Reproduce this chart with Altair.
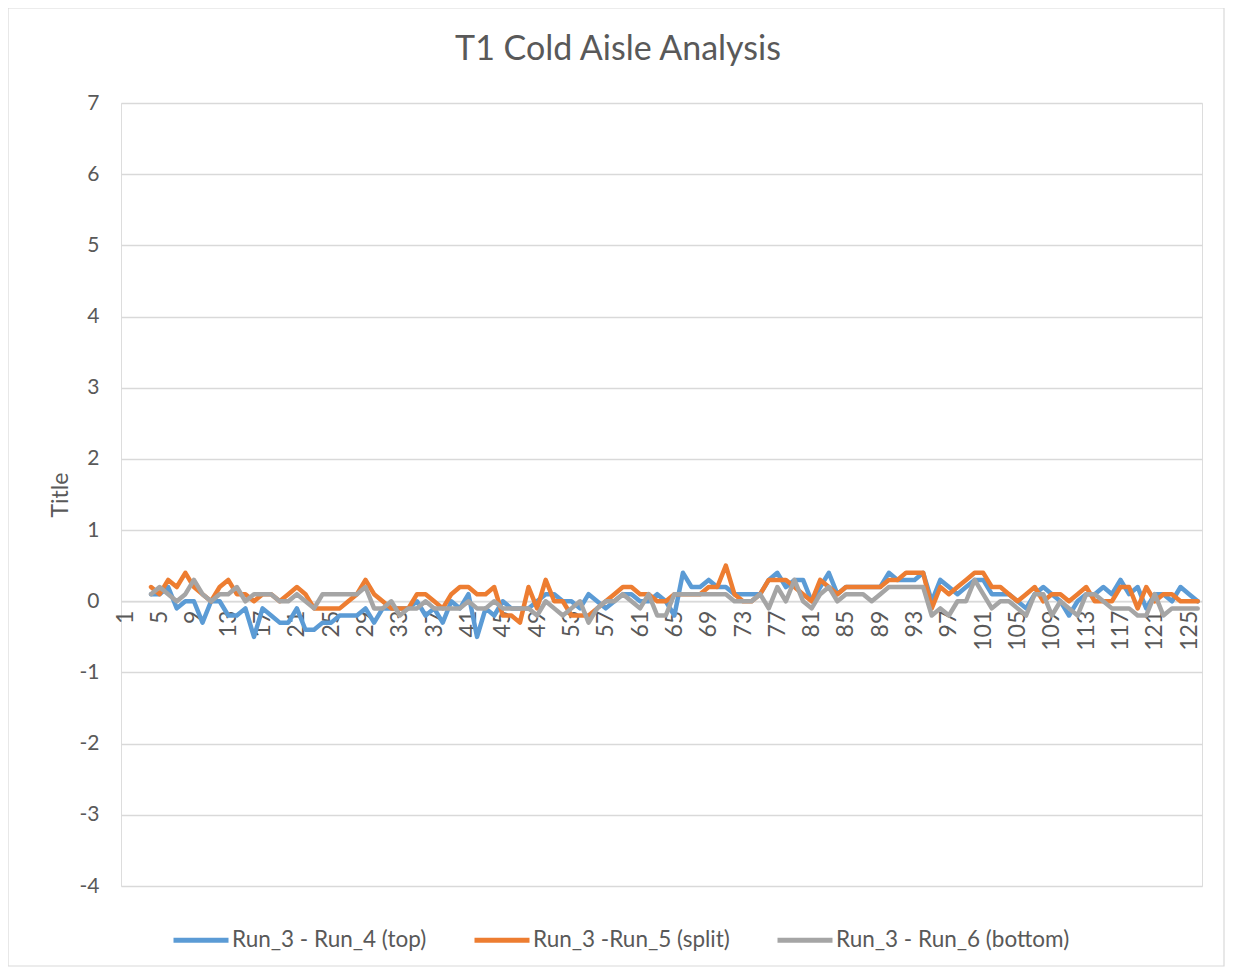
import altair as alt
import pandas as pd

categories = list(range(4, 127))

run4_top = [0.1, 0.1, 0.2, -0.1, 0, 0, -0.3, 0, 0, -0.2, -0.2, -0.1, -0.5, -0.1, -0.2, -0.3, -0.3, -0.1,
            -0.4, -0.4, -0.3, -0.3, -0.2, -0.2, -0.2, -0.1, -0.3, -0.1, -0.1, -0.1, -0.1, 0, -0.2, -0.1,
            -0.3, 0, -0.1, 0.1, -0.5, -0.1, -0.2, 0, -0.1, -0.1, -0.1, 0, 0.1, 0.1, 0, 0, -0.1, 0.1, 0,
            -0.1, 0, 0.1, 0.1, 0, 0, 0.1, 0, -0.2, 0.4, 0.2, 0.2, 0.3, 0.2, 0.2, 0.1, 0.1, 0.1, 0.1, 0.3,
            0.4, 0.2, 0.3, 0.3, 0, 0.2, 0.4, 0.1, 0.2, 0.2, 0.2, 0.2, 0.2, 0.4, 0.3, 0.3, 0.3, 0.4, 0,
            0.3, 0.2, 0.1, 0.2, 0.3, 0.3, 0.1, 0.1, 0.1, 0, -0.1, 0.1, 0.2, 0.1, 0, -0.2, 0, 0.1, 0.1,
            0.2, 0.1, 0.3, 0.1, 0.2, -0.1, 0.1, 0.1, 0, 0.2, 0.1, 0]

run5_split = [0.2, 0.1, 0.3, 0.2, 0.4, 0.2, 0.1, 0, 0.2, 0.3, 0.1, 0.1, 0, 0.1, 0.1, 0, 0.1, 0.2,
              0.1, -0.1, -0.1, -0.1, -0.1, 0, 0.1, 0.3, 0.1, 0, -0.1, -0.1, -0.1, 0.1, 0.1, 0, -0.1,
              0.1, 0.2, 0.2, 0.1, 0.1, 0.2, -0.2, -0.2, -0.3, 0.2, -0.1, 0.3, 0, 0, -0.2, -0.2, -0.2,
              -0.1, 0, 0.1, 0.2, 0.2, 0.1, 0.1, 0, 0, 0.1, 0.1, 0.1, 0.1, 0.2, 0.2, 0.5, 0.1, 0, 0, 0.1,
              0.3, 0.3, 0.3, 0.2, 0.1, 0, 0.3, 0.2, 0.1, 0.2, 0.2, 0.2, 0.2, 0.2, 0.3, 0.3, 0.4, 0.4,
              0.4, -0.1, 0.2, 0.1, 0.2, 0.3, 0.4, 0.4, 0.2, 0.2, 0.1, 0, 0.1, 0.2, 0, 0.1, 0.1, 0, 0.1,
              0.2, 0, 0, 0, 0.2, 0.2, -0.1, 0.2, 0, 0.1, 0.1, 0, 0, 0]

run6_bottom = [0.1, 0.2, 0.1, 0, 0.1, 0.3, 0.1, 0, 0.1, 0.1, 0.2, 0, 0.1, 0.1, 0.1, 0, 0, 0.1, 0,
               -0.1, 0.1, 0.1, 0.1, 0.1, 0.1, 0.2, -0.1, -0.1, 0, -0.2, -0.1, -0.1, 0, -0.1, -0.1,
               -0.1, -0.1, 0, -0.1, -0.1, 0, -0.1, -0.1, -0.1, -0.1, -0.2, 0, -0.1, -0.2, -0.1, 0,
               -0.3, -0.1, 0, 0, 0.1, 0, -0.1, 0.1, -0.2, -0.2, 0.1, 0.1, 0.1, 0.1, 0.1, 0.1, 0.1, 0,
               0, 0, 0.1, -0.1, 0.2, 0, 0.3, 0, -0.1, 0.1, 0.2, 0, 0.1, 0.1, 0.1, 0, 0.1, 0.2, 0.2,
               0.2, 0.2, 0.2, -0.2, -0.1, -0.2, 0, 0, 0.3, 0.1, -0.1, 0, 0, -0.1, -0.2, 0.1, 0.1, -0.2,
               0, -0.1, -0.2, 0.1, 0.1, 0, -0.1, -0.1, -0.1, -0.2, -0.2, 0.1, -0.2, -0.1, -0.1, -0.1,
               -0.1]

series_names = ["Run_3 - Run_4 (top)", "Run_3 -Run_5 (split)", "Run_3 - Run_6 (bottom)"]
series_colors = ["#5B9BD5", "#ED7D31", "#A5A5A5"]
x_tick_values = list(range(1, 127, 4))
y_tick_values = list(range(-4, 8))
chart_title = "T1 Cold Aisle Analysis"

rows = []
for order, (name, vals) in enumerate(zip(series_names, [run4_top, run5_split, run6_bottom])):
    for c, v in zip(categories, vals):
        rows.append({"category": c, "value": v, "series": name, "order": order})
df = pd.DataFrame(rows)

W, H = 1081, 783
FONT = "Lato"
TXT = "#595959"

lines = alt.Chart(df).mark_line(strokeWidth=4.5, strokeJoin="round", strokeCap="round").encode(
    x=alt.X("category:Q",
            scale=alt.Scale(domain=[0.5, 126.5], nice=False, zero=False),
            axis=alt.Axis(values=x_tick_values, labelAngle=-90, grid=False, ticks=False,
                          domain=True, domainColor="#D9D9D9", domainWidth=1.3,
                          labelFontSize=23, labelColor=TXT, labelFont=FONT,
                          labelPadding=9, offset=-H * 4 / 11, title=None,
                          labelOverlap=False)),
    y=alt.Y("value:Q",
            scale=alt.Scale(domain=[-4, 7], nice=False, zero=False),
            axis=alt.Axis(values=y_tick_values, grid=True, gridColor="#D9D9D9", gridWidth=1.3,
                          ticks=False, domain=False, labelFontSize=21, labelColor=TXT,
                          labelFont=FONT, labelPadding=22, labelExpr="'' + datum.value",
                          title="Title", titleFontSize=23,
                          titleFont=FONT, titleColor=TXT, titleFontWeight="normal",
                          titlePadding=7)),
    color=alt.Color("series:N",
                    scale=alt.Scale(domain=series_names, range=series_colors),
                    legend=alt.Legend(orient="none", legendX=50, legendY=807, direction="horizontal",
                                      title=None, symbolType="stroke", symbolSize=3025,
                                      symbolStrokeWidth=5, labelFontSize=22.5, labelFont=FONT,
                                      labelColor=TXT, labelOffset=1, columnPadding=37,
                                      labelLimit=0)),
    detail="series:N",
    order="order:Q",
)

border = alt.Chart(pd.DataFrame({"a": [0]})).mark_rect(
    fill=None, stroke="#D9D9D9", strokeWidth=1.2
).encode(x=alt.value(-113), x2=alt.value(1103), y=alt.value(-95), y2=alt.value(863))

title_text = alt.Chart(pd.DataFrame({"t": [chart_title]})).mark_text(
    font=FONT, fontSize=34, color=TXT, align="center", baseline="alphabetic"
).encode(text="t:N", x=alt.value(497), y=alt.value(-43))

chart = alt.layer(border, lines, title_text).properties(
    width=W, height=H,
    autosize=alt.AutoSizeParams(type="none"),
    padding={"left": 113, "top": 95, "right": 23, "bottom": 81},
).configure_view(stroke=None).configure(background="white")

chart.save("out.html", embed_options={"renderer": "svg", "actions": False})
